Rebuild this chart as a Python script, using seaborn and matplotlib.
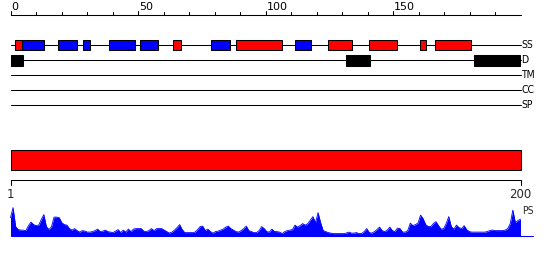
import numpy as np
import pandas as pd
import matplotlib
matplotlib.use("Agg")
import matplotlib.pyplot as plt
import seaborn as sns
from matplotlib.patches import Rectangle

# ---------------- data ----------------
ss_start = [1.8, 4.55, 18.7, 28.4, 38.7, 50.8, 63.7, 78.7, 88.5, 111.7, 124.6, 140.7, 160.7, 166.6]
ss_end = [4.55, 12.9, 25.9, 31.0, 48.6, 57.7, 66.7, 85.9, 106.5, 117.7, 133.8, 151.7, 162.8, 180.7]
ss_type = ['H', 'E', 'E', 'E', 'E', 'E', 'H', 'E', 'H', 'E', 'H', 'H', 'H', 'H']

dis_start = [0.0, 131.5, 181.8]
dis_end = [4.7, 141.0, 199.8]

track_names = ['SS', 'D', 'TM', 'CC', 'SP']
top_ticks_major = [0, 50, 100, 150]
top_ticks_minor = list(range(0, 200, 10))

bottom_labels = ['1', '200']
residues = list(range(1, 201))
ps = [18, 28, 9, 6, 5.5, 5.5, 5, 10, 13.5, 11,
      10, 10.5, 16, 21, 9, 6, 9, 18.5, 18.5, 18,
      13, 11, 10.5, 7, 5.5, 7, 5, 3.5, 5, 4.5,
      3.5, 3.5, 4, 5, 6.5, 4, 4.5, 5.5, 4, 3.5,
      3, 4.5, 6, 3, 5.5, 3.5, 6.5, 4, 6.5, 7,
      7, 7, 4.5, 4, 5, 7, 5, 7, 7, 7,
      5.5, 4, 2.5, 3.5, 5.5, 8, 11, 6, 3, 3,
      3, 3, 3.5, 6, 9, 9.5, 5, 6.5, 4, 2.5,
      4, 4.5, 5.5, 6.5, 8.5, 9.5, 7, 5.5, 4, 3.5,
      5, 7, 9.5, 5, 4, 3, 3, 5, 9, 7,
      4, 3.5, 6.5, 4, 4, 3.5, 2, 4, 5, 5.5,
      6, 10.5, 8.5, 10, 12, 10.5, 12, 15.5, 19, 13,
      23, 13, 5, 4, 3, 2.5, 2, 2, 2, 2,
      2, 2.5, 3.5, 2.5, 2.5, 3, 2, 2, 4, 7,
      3, 2.5, 4, 6, 8.5, 5, 4, 5.5, 8.5, 5,
      4, 7.5, 7, 3.5, 3.5, 5, 12.5, 10, 11, 12.5,
      20.5, 17, 11, 9, 9, 12, 14, 10, 6.5, 7,
      12, 19, 9, 6.5, 10.5, 8, 7, 10, 6, 4,
      3.5, 3.5, 3.5, 3.5, 3.5, 3.5, 4, 5, 5.5, 5,
      5, 5, 5, 5.5, 7, 12, 25.5, 13, 15, 16.5]

ss_colors = {'H': '#ff0000', 'E': '#0000ff'}
RED = '#ff0000'
BLUE = '#0000ff'

# ---------------- figure ----------------
sns.set_theme(style="white")
plt.rcParams['font.family'] = ['DejaVu Sans']

W, H = 550, 260
fig = plt.figure(figsize=(5.5, 2.6), dpi=100)
fig.patch.set_facecolor('white')

top = fig.add_axes([10.7 / W, 0, 509.8 / W, 1])
top.set_xlim(0, 200)
top.set_ylim(H, 0)
top.axis('off')

LW = 0.75
# top scale
top.plot([0, 200], [15, 15], color='black', lw=LW, clip_on=False)
for t in top_ticks_minor:
    L = 4 if t in top_ticks_major else 3
    top.plot([t, t], [15 - L, 15], color='black', lw=LW, clip_on=False)
for t in top_ticks_major:
    top.text(t + 0.4, 10.3, str(t), fontsize=8, ha='left', va='baseline', color='black')

# tracks
track_y = [45.3, 60.3, 75.3, 90.3, 105.3]
for name, y in zip(track_names, track_y):
    top.plot([0, 200], [y, y], color='black', lw=LW, clip_on=False, zorder=1)
    top.text(200.3, y, name, fontsize=7.5, ha='left', va='center', color='black',
             fontstretch='condensed')

for s, e, t in zip(ss_start, ss_end, ss_type):
    top.add_patch(Rectangle((s, 40.3), e - s, 10, facecolor=ss_colors[t],
                            edgecolor='black', lw=LW, zorder=3, clip_on=False))
for s, e in zip(dis_start, dis_end):
    top.add_patch(Rectangle((s, 55.0), e - s, 10.7, facecolor='black',
                            edgecolor='black', lw=LW, zorder=3, clip_on=False))

# ---------------- bottom ----------------
bot = fig.add_axes([10.5 / W, 0, 510 / W, 1])
bot.set_xlim(1, 200)
bot.set_ylim(H, 0)
bot.axis('off')
bot.patch.set_alpha(0)

bot.add_patch(Rectangle((1, 150), 199, 20.3, facecolor=RED, edgecolor='black', lw=LW,
                        clip_on=False, zorder=2))
bot.plot([1, 200], [180.3, 180.3], color='black', lw=LW, clip_on=False)
bot.plot([1, 1], [180.3, 185.3], color='black', lw=LW, clip_on=False)
bot.plot([200, 200], [180.3, 185.3], color='black', lw=LW, clip_on=False)
bot.text(1, 195, bottom_labels[0], fontsize=8.5, ha='center', va='center')
bot.text(200, 195, bottom_labels[1], fontsize=8.5, ha='center', va='center')
bot.text(200.5, 211, 'PS', fontsize=7.5, ha='left', va='center', fontstretch='condensed')

base = 235.6
df = pd.DataFrame({'res': residues, 'ps': ps})
df['y'] = base - df['ps']
bot.fill_between(df['res'], df['y'], base, color=BLUE, lw=0, clip_on=False)
sns.lineplot(data=df, x='res', y='y', ax=bot, color=BLUE, lw=0.6, clip_on=False)
bot.plot([1, 204.9], [base, base], color=BLUE, lw=LW, clip_on=False)
bot.set_xlim(1, 200)
bot.set_ylim(H, 0)
bot.axis('off')

fig.savefig('out.png', dpi=100, facecolor='white')
